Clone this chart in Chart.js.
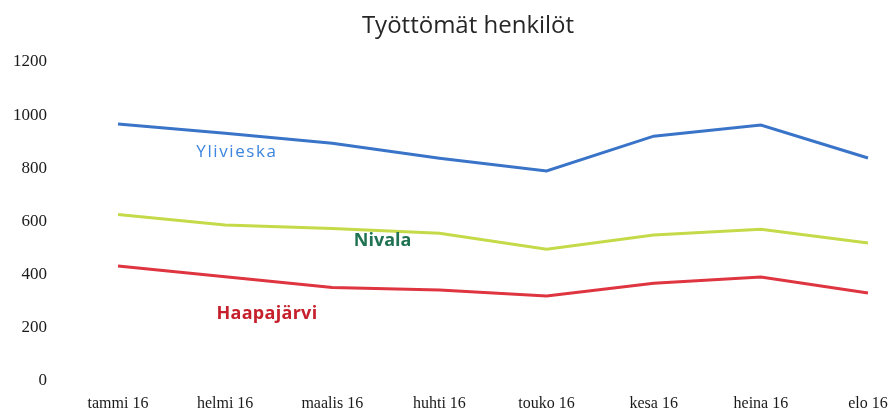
<!DOCTYPE html>
<html>
<head>
<meta charset="utf-8">
<script src="https://cdn.jsdelivr.net/npm/chart.js@4/dist/chart.umd.min.js"></script>
<style>
  html, body { margin: 0; padding: 0; background: #fff; }
  #wrap { width: 890px; height: 410px; position: relative; }
</style>
</head>
<body>
<div id="wrap"><canvas id="c" width="890" height="410"></canvas></div>
<script>
const categories = ['tammi 16', 'helmi 16', 'maalis 16', 'huhti 16', 'touko 16', 'kesa 16', 'heina 16', 'elo 16'];
const ylivieska = [967, 932, 894, 838, 790, 921, 963, 839];
const nivala = [626, 587, 574, 556, 496, 549, 571, 519];
const haapajarvi = [433, 392, 352, 342, 320, 368, 391, 331];
const yTicks = [0, 200, 400, 600, 800, 1000, 1200];
const titleText = 'Työttömät henkilöt';
// series names placed in the plot (category index, value)
const seriesLabels = [
  { text: 'Ylivieska', idx: 1.11, value: 862, color: '#3d85de', bold: false, spacing: '1.6px', size: 17 },
  { text: 'Nivala', idx: 2.47, value: 527, color: '#1f7352', bold: true, spacing: '0px', size: 18 },
  { text: 'Haapajärvi', idx: 1.39, value: 252, color: '#c6202c', bold: true, spacing: '0.3px', size: 18 }
];

const annotate = {
  id: 'annotate',
  afterDatasetsDraw(chart) {
    const ctx = chart.ctx;
    const xs = chart.scales.x, ys = chart.scales.y;
    ctx.save();
    ctx.textAlign = 'center';
    ctx.textBaseline = 'middle';
    seriesLabels.forEach(l => {
      const i0 = Math.floor(l.idx), f = l.idx - i0;
      const x = xs.getPixelForValue(i0) + f * (xs.getPixelForValue(i0 + 1) - xs.getPixelForValue(i0));
      const y = ys.getPixelForValue(l.value);
      ctx.font = (l.bold ? 'bold ' : '') + l.size + 'px "Open Sans"';
      ctx.letterSpacing = l.spacing;
      ctx.fillStyle = l.color;
      ctx.fillText(l.text, x, y);
    });
    ctx.letterSpacing = '0px';
    ctx.font = '24px "Open Sans"';
    ctx.fillStyle = '#262626';
    ctx.fillText(titleText, 468, 26);
    ctx.restore();
  }
};

new Chart(document.getElementById('c'), {
  type: 'line',
  data: {
    labels: categories,
    datasets: [
      { label: 'Ylivieska', data: ylivieska, borderColor: '#3a74c8', borderWidth: 3, pointRadius: 0, tension: 0, fill: false },
      { label: 'Nivala', data: nivala, borderColor: '#c5da48', borderWidth: 3, pointRadius: 0, tension: 0, fill: false },
      { label: 'Haapajärvi', data: haapajarvi, borderColor: '#de3540', borderWidth: 3, pointRadius: 0, tension: 0, fill: false }
    ]
  },
  options: {
    responsive: false,
    animation: false,
    devicePixelRatio: 1,
    layout: { padding: { top: 62, right: 22, left: 0, bottom: 0 } },
    plugins: { legend: { display: false }, title: { display: false }, tooltip: { enabled: false } },
    scales: {
      x: {
        grid: { display: false, drawTicks: false },
        border: { display: false },
        ticks: { padding: 13, maxRotation: 0, autoSkip: false, color: '#1a1a1a', font: { family: '"Liberation Serif"', size: 16 } },
        afterFit(s) { s.height = 29; s.paddingLeft = 0; s.paddingRight = 0; }
      },
      y: {
        min: 0, max: 1200,
        afterBuildTicks(s) { s.ticks = yTicks.map(v => ({ value: v })); },
        grid: { display: false, drawTicks: false },
        border: { display: false },
        ticks: { padding: 71, color: '#1a1a1a', font: { family: '"Liberation Serif"', size: 17 }, callback: v => String(v) },
        afterFit(s) { s.width = 118; s.paddingTop = 0; s.paddingBottom = 0; }
      }
    }
  },
  plugins: [annotate]
});
</script>
</body>
</html>
